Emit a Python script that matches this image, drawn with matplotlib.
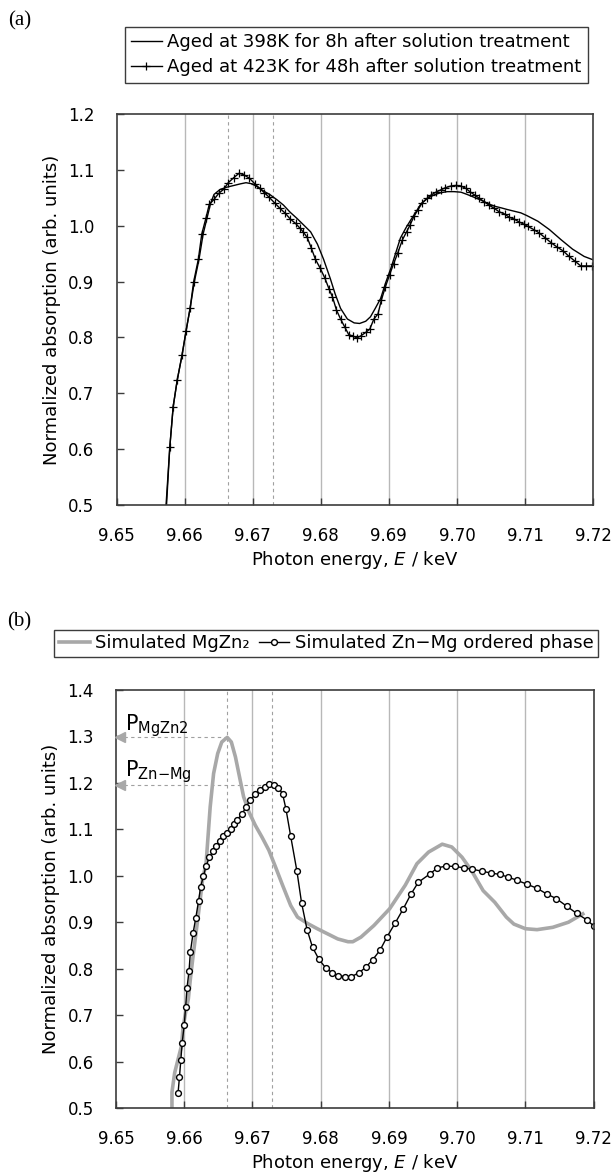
import numpy as np
import matplotlib
matplotlib.use('Agg')
import matplotlib.pyplot as plt

plt.rcParams['font.family'] = ['DejaVu Sans']
plt.rcParams['mathtext.fontset'] = 'dejavusans'

# ---- (a) measured spectra ----
e_398 = [9.6573, 9.6578, 9.6583, 9.6589, 9.6596, 9.6602, 9.6608, 9.6614, 9.6621, 9.6627,
         9.6633, 9.6638, 9.6643, 9.6652, 9.6662, 9.6672, 9.6682, 9.6690, 9.6699, 9.6706,
         9.6716, 9.6726, 9.6736, 9.6745, 9.6755, 9.6765, 9.6775, 9.6785, 9.6795, 9.6804,
         9.6814, 9.6821, 9.6829, 9.6839, 9.6849, 9.6857, 9.6866, 9.6873, 9.6880, 9.6888,
         9.6895, 9.6903, 9.6910, 9.6917, 9.6925, 9.6932, 9.6940, 9.6947, 9.6957, 9.6966,
         9.6976, 9.6986, 9.6996, 9.7006, 9.7015, 9.7025, 9.7035, 9.7045, 9.7055, 9.7065,
         9.7074, 9.7084, 9.7094, 9.7103, 9.7119, 9.7136, 9.7153, 9.7170, 9.7187, 9.7200]
a_398 = [0.495, 0.603, 0.676, 0.724, 0.768, 0.812, 0.853, 0.899, 0.940, 0.985,
         1.015, 1.040, 1.056, 1.065, 1.069, 1.072, 1.075, 1.077, 1.075, 1.070,
         1.062, 1.055, 1.046, 1.037, 1.024, 1.013, 1.001, 0.989, 0.967, 0.940,
         0.905, 0.878, 0.852, 0.833, 0.826, 0.825, 0.829, 0.837, 0.852, 0.870,
         0.897, 0.924, 0.951, 0.978, 0.996, 1.010, 1.025, 1.039, 1.049, 1.055,
         1.059, 1.061, 1.061, 1.060, 1.056, 1.051, 1.046, 1.040, 1.035, 1.032,
         1.029, 1.026, 1.023, 1.018, 1.008, 0.993, 0.975, 0.958, 0.945, 0.939]

e_423 = [9.6572, 9.6578, 9.6583, 9.6589, 9.6596, 9.6602, 9.6608, 9.6613, 9.6620, 9.6625,
         9.6631, 9.6636, 9.6643, 9.6650, 9.6657, 9.6664, 9.6672, 9.6680, 9.6687, 9.6695,
         9.6703, 9.6710, 9.6717, 9.6724, 9.6732, 9.6740, 9.6748, 9.6755, 9.6763, 9.6769,
         9.6774, 9.6780, 9.6786, 9.6792, 9.6799, 9.6806, 9.6812, 9.6817, 9.6823, 9.6829,
         9.6835, 9.6841, 9.6848, 9.6853, 9.6859, 9.6866, 9.6872, 9.6878, 9.6884, 9.6889,
         9.6895, 9.6901, 9.6907, 9.6913, 9.6920, 9.6926, 9.6931, 9.6937, 9.6943, 9.6949,
         9.6956, 9.6962, 9.6969, 9.6976, 9.6983, 9.6991, 9.6998, 9.7006, 9.7013, 9.7019,
         9.7026, 9.7033, 9.7040, 9.7047, 9.7055, 9.7062, 9.7070, 9.7077, 9.7084, 9.7091,
         9.7098, 9.7104, 9.7113, 9.7121, 9.7130, 9.7139, 9.7147, 9.7156, 9.7164, 9.7173,
         9.7182, 9.7190, 9.7198]
a_423 = [0.490, 0.603, 0.676, 0.724, 0.768, 0.812, 0.853, 0.899, 0.940, 0.985,
         1.013, 1.038, 1.047, 1.058, 1.065, 1.077, 1.086, 1.094, 1.091, 1.085,
         1.075, 1.067, 1.059, 1.051, 1.041, 1.031, 1.022, 1.012, 1.004, 0.996,
         0.989, 0.979, 0.960, 0.940, 0.924, 0.906, 0.887, 0.873, 0.849, 0.833,
         0.819, 0.805, 0.802, 0.799, 0.803, 0.809, 0.815, 0.833, 0.842, 0.867,
         0.891, 0.912, 0.932, 0.951, 0.975, 0.989, 1.001, 1.017, 1.029, 1.041,
         1.049, 1.055, 1.060, 1.064, 1.068, 1.071, 1.072, 1.071, 1.067, 1.061,
         1.055, 1.049, 1.043, 1.037, 1.031, 1.025, 1.021, 1.015, 1.012, 1.007,
         1.003, 0.999, 0.993, 0.987, 0.978, 0.969, 0.962, 0.955, 0.946, 0.937,
         0.928, 0.928, 0.928]

# ---- (b) simulated spectra ----
e_mgzn2 = [9.6582, 9.6582, 9.6586, 9.6591, 9.6596, 9.6598, 9.6602, 9.6606, 9.6609, 9.6613,
           9.6618, 9.6623, 9.6627, 9.6632, 9.6638, 9.6643, 9.6649, 9.6655, 9.6663, 9.6669,
           9.6675, 9.6681, 9.6687, 9.6695, 9.6704, 9.6714, 9.6724, 9.6734, 9.6744, 9.6756,
           9.6766, 9.6781, 9.6795, 9.6810, 9.6825, 9.6840, 9.6847, 9.6859, 9.6878, 9.6901,
           9.6924, 9.6941, 9.6958, 9.6978, 9.6992, 9.7007, 9.7021, 9.7038, 9.7055, 9.7072,
           9.7083, 9.7100, 9.7117, 9.7140, 9.7163, 9.7184]
a_mgzn2 = [0.497, 0.534, 0.576, 0.605, 0.634, 0.670, 0.706, 0.735, 0.778, 0.828,
           0.886, 0.944, 0.994, 1.026, 1.148, 1.220, 1.263, 1.288, 1.298, 1.288,
           1.256, 1.213, 1.170, 1.137, 1.109, 1.083, 1.055, 1.018, 0.980, 0.936,
           0.911, 0.897, 0.886, 0.875, 0.864, 0.858, 0.858, 0.868, 0.893, 0.929,
           0.980, 1.026, 1.051, 1.068, 1.062, 1.040, 1.011, 0.968, 0.943, 0.911,
           0.896, 0.886, 0.884, 0.889, 0.900, 0.918]

e_znmg = [9.6591, 9.6593, 9.6595, 9.6597, 9.6600, 9.6602, 9.6604, 9.6607, 9.6609, 9.6613,
          9.6617, 9.6621, 9.6624, 9.6628, 9.6632, 9.6637, 9.6642, 9.6647, 9.6652, 9.6657,
          9.6662, 9.6668, 9.6673, 9.6678, 9.6685, 9.6691, 9.6697, 9.6704, 9.6711, 9.6718,
          9.6724, 9.6731, 9.6738, 9.6744, 9.6749, 9.6756, 9.6765, 9.6772, 9.6780, 9.6788,
          9.6797, 9.6807, 9.6817, 9.6826, 9.6836, 9.6845, 9.6856, 9.6866, 9.6876, 9.6887,
          9.6897, 9.6909, 9.6921, 9.6932, 9.6943, 9.6960, 9.6971, 9.6984, 9.6997, 9.7010,
          9.7022, 9.7036, 9.7049, 9.7062, 9.7075, 9.7088, 9.7102, 9.7117, 9.7131, 9.7145,
          9.7161, 9.7175, 9.7190, 9.7200]
a_znmg = [0.533, 0.567, 0.603, 0.641, 0.679, 0.717, 0.758, 0.795, 0.836, 0.877,
          0.910, 0.946, 0.976, 0.999, 1.021, 1.040, 1.053, 1.064, 1.075, 1.085,
          1.092, 1.101, 1.111, 1.121, 1.134, 1.149, 1.164, 1.175, 1.184, 1.191,
          1.197, 1.195, 1.189, 1.177, 1.144, 1.085, 1.011, 0.941, 0.884, 0.846,
          0.821, 0.802, 0.791, 0.785, 0.783, 0.783, 0.791, 0.803, 0.819, 0.840,
          0.868, 0.898, 0.929, 0.960, 0.986, 1.004, 1.017, 1.021, 1.020, 1.017,
          1.014, 1.010, 1.006, 1.003, 0.997, 0.990, 0.982, 0.973, 0.961, 0.951,
          0.934, 0.919, 0.905, 0.892]

x_ticks = [9.65, 9.66, 9.67, 9.68, 9.69, 9.70, 9.71, 9.72]
peak_e = [9.6663, 9.6729]        # dashed guide lines
peak_mgzn2 = 1.298
peak_znmg = 1.195

W, H = 611, 1176
fig = plt.figure(figsize=(W / 100, H / 100), dpi=100)

spine_c = '#3c3c3c'
grid_c = '#b8b8b8'
tick_fs = 12
lab_fs = 13
leg_fs = 13


def style_axes(ax, ylim, yticks):
    ax.set_xlim(9.65, 9.72)
    ax.set_ylim(*ylim)
    ax.set_xticks(x_ticks)
    ax.set_xticklabels([f'{t:.2f}' for t in x_ticks])
    ax.set_yticks(yticks)
    ax.set_yticklabels([f'{t:.1f}' for t in yticks])
    for t in x_ticks[1:-1]:
        ax.axvline(t, color=grid_c, lw=1.0, zorder=0)
    for t in peak_e:
        ax.axvline(t, color='#a0a0a0', lw=0.8, ls=(0, (3, 3)), zorder=0)
    for s in ax.spines.values():
        s.set_color(spine_c)
        s.set_linewidth(1.2)
    ax.tick_params(direction='in', length=5, width=1.0, color=spine_c,
                   labelsize=tick_fs, pad=16, top=False, right=False)
    ax.set_ylabel('Normalized absorption (arb. units)', fontsize=lab_fs, labelpad=5)
    ax.set_xlabel(r'Photon energy, $\mathit{E}$ / keV', fontsize=lab_fs, labelpad=3)


# panel (a)
ax1 = fig.add_axes([116.7 / W, 1 - 505 / H, (593 - 116.7) / W, 391 / H])
l1, = ax1.plot(e_398, a_398, color='black', lw=1.0,
               label='Aged at 398K for 8h after solution treatment')
l2, = ax1.plot(e_423, a_423, color='black', lw=1.0, marker='+', ms=6, mew=0.9,
               label='Aged at 423K for 48h after solution treatment')
style_axes(ax1, (0.5, 1.2), np.round(np.arange(0.5, 1.21, 0.1), 1))
leg1 = fig.legend(handles=[l1, l2], loc='upper right',
                  bbox_to_anchor=(587.5 / W, 1 - 26.7 / H), bbox_transform=fig.transFigure,
                  fontsize=leg_fs, frameon=True, fancybox=False, framealpha=1,
                  edgecolor=spine_c, handlelength=1.7, handletextpad=0.3,
                  borderpad=0.35, labelspacing=0.4, borderaxespad=0)
leg1.get_frame().set_linewidth(1.0)

# panel (b)
ax2 = fig.add_axes([116 / W, 1 - 1108 / H, (593.7 - 116) / W, 418 / H])
l3, = ax2.plot(e_mgzn2, a_mgzn2, color='#a8a8a8', lw=2.6, label='Simulated MgZn\u2082')
l4, = ax2.plot(e_znmg, a_znmg, color='black', lw=1.0, marker='o', ms=4.2,
               mfc='white', mec='black', mew=1.0,
               label='Simulated Zn\u2212Mg ordered phase')
style_axes(ax2, (0.5, 1.4), np.round(np.arange(0.5, 1.41, 0.1), 1))
for pe, pv in zip(peak_e, [peak_mgzn2, peak_znmg]):
    ax2.plot([9.6512, pe], [pv, pv], color='#a0a0a0', lw=0.8, ls=(0, (3, 3)), zorder=1)
    ax2.plot([9.6506], [pv], marker='<', ms=7, color='#a8a8a8', mec='#a8a8a8',
             clip_on=False, zorder=3)
ax2.text(9.6513, 1.324, r'$\mathregular{P_{MgZn2}}$', fontsize=15, va='center', ha='left')
ax2.text(9.6513, 1.224, r'$\mathregular{P_{Zn{-}Mg}}$', fontsize=15, va='center', ha='left')
leg2 = fig.legend(handles=[l3, l4], loc='upper right', ncol=2,
                  bbox_to_anchor=(598 / W, 1 - 629.5 / H), bbox_transform=fig.transFigure,
                  fontsize=leg_fs, frameon=True, fancybox=False, framealpha=1,
                  edgecolor=spine_c, handlelength=1.7, handletextpad=0.3,
                  columnspacing=0.5, borderpad=0.25, borderaxespad=0)
leg2.get_frame().set_linewidth(1.0)

fig.text(8 / W, 1 - 21 / H, '(a)', family='Liberation Serif', fontsize=15, va='center', ha='left')
fig.text(7 / W, 1 - 622 / H, '(b)', family='Liberation Serif', fontsize=15, va='center', ha='left')

fig.savefig('out.png', dpi=100)
